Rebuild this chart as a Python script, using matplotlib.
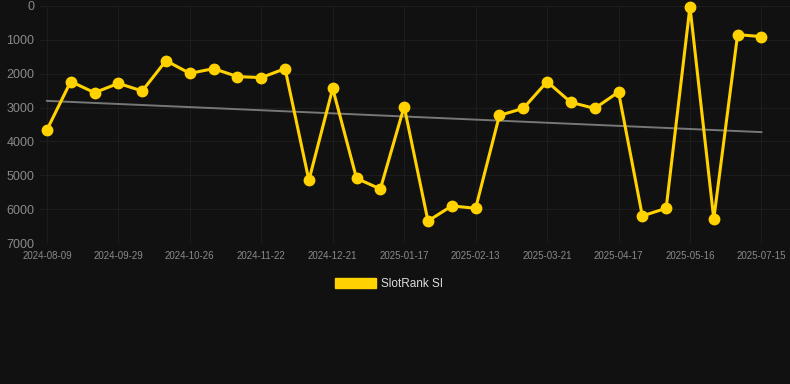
import matplotlib
matplotlib.use("Agg")
import matplotlib.pyplot as plt
from matplotlib.patches import Patch
import numpy as np

BG = '#111111'
GOLD = '#FFD200'
GRID = '#1d1d1d'
TICK = '#8a8a8a'

# every third point carries a date label, the rest are blank
dates = ['2024-08-09', '', '', '2024-09-29', '', '', '2024-10-26', '', '',
         '2024-11-22', '', '', '2024-12-21', '', '', '2025-01-17', '', '',
         '2025-02-13', '', '', '2025-03-21', '', '', '2025-04-17', '', '',
         '2025-05-16', '', '', '2025-07-15']
rank = [3660, 2230, 2560, 2285, 2510, 1615, 1990, 1850, 2085, 2115, 1850,
        5150, 2435, 5090, 5405, 2970, 6350, 5905, 5975, 3230, 3025, 2235,
        2845, 3025, 2540, 6200, 5975, 20, 6290, 845, 905]

x = np.arange(len(rank))
slope, icpt = np.polyfit(x, rank, 1)

fig = plt.figure(figsize=(7.9, 3.84), dpi=100, facecolor=BG)
ax = fig.add_axes([40/790, 1 - 243/384, 750/790, 237/384], facecolor=BG)

ax.plot(x, slope * x + icpt, color='#777777', lw=1.4, zorder=2)
ax.plot(x, rank, color=GOLD, lw=2.2, marker='o', ms=7.5, zorder=3, clip_on=False)

ax.set_ylim(7000, 0)
ax.set_yticks(range(0, 7001, 1000))
ax.set_xlim(-0.29, 31.2)
ticks = [i for i, d in enumerate(dates) if d]
ax.set_xticks(ticks)
ax.set_xticklabels([dates[i] for i in ticks])

ax.grid(True, color=GRID, lw=0.8)
ax.set_axisbelow(True)
for s in ax.spines.values():
    s.set_visible(False)
ax.tick_params(length=0, colors=TICK)
for lab in ax.get_yticklabels():
    lab.set_fontsize(9)
    lab.set_family(['Liberation Sans', 'DejaVu Sans'])
for lab in ax.get_xticklabels():
    lab.set_fontsize(7)
    lab.set_family(['Liberation Sans Narrow', 'Liberation Sans', 'DejaVu Sans'])
ax.tick_params(axis='x', pad=6)
ax.tick_params(axis='y', pad=4)

fig.legend(handles=[Patch(color=GOLD, label='SlotRank SI')], loc='center',
           bbox_to_anchor=(389/790, 1 - 284/384), frameon=False, handlelength=3.5,
           handleheight=0.9, handletextpad=0.45,
           prop={'size': 8.5, 'family': ['Liberation Sans', 'DejaVu Sans']},
           labelcolor='#dddddd')

fig.savefig('out.png', dpi=100, facecolor=BG)
